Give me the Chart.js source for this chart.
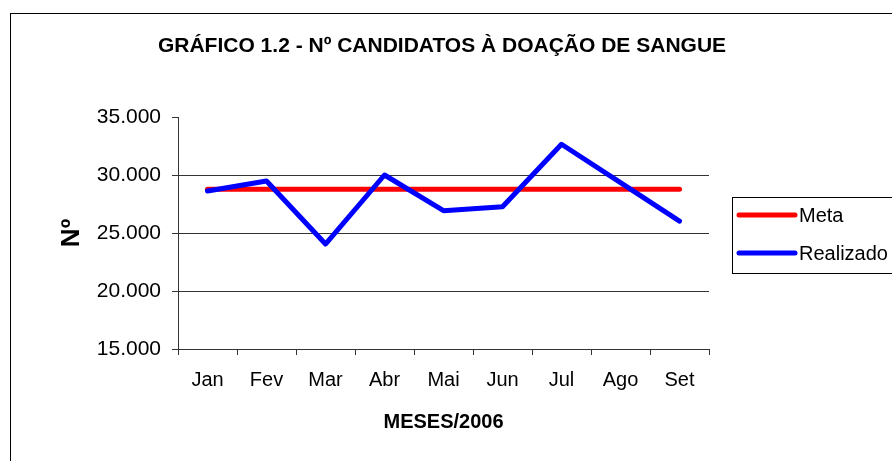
<!DOCTYPE html>
<html>
<head>
<meta charset="utf-8">
<script src="https://cdn.jsdelivr.net/npm/chart.js@4"></script>
<style>
  body { margin: 0; background: #fff; }
</style>
</head>
<body>
<canvas id="grafico" width="892" height="461"></canvas>
<script>
// dados do gráfico 1.2
const meses = ['Jan', 'Fev', 'Mar', 'Abr', 'Mai', 'Jun', 'Jul', 'Ago', 'Set'];
const meta = [28770, 28770, 28770, 28770, 28770, 28770, 28770, 28770, 28770];
const realizado = [28620, 29480, 24050, 30000, 26920, 27270, 32650, 29340, 26030];
const eixoY = { min: 15000, max: 35000, passo: 5000 };
const titulo = 'GRÁFICO 1.2 - Nº CANDIDATOS À DOAÇÃO DE SANGUE';

const FONTE = 'Liberation Sans, Arial, sans-serif';

// formata 35000 -> "35.000"
function formataMilhar(v) {
  return String(v).replace(/\B(?=(\d{3})+(?!\d))/g, '.');
}

// moldura externa, título e caixa da legenda (estilo Excel)
const molduraPlugin = {
  id: 'moldura',
  afterDraw(chart) {
    const ctx = chart.ctx;
    ctx.save();
    ctx.strokeStyle = '#000';
    ctx.lineWidth = 1;
    ctx.strokeRect(10.5, 13.5, 900, 500);

    // título
    ctx.fillStyle = '#000';
    ctx.font = 'bold 21px ' + FONTE;
    ctx.textAlign = 'center';
    ctx.textBaseline = 'middle';
    ctx.fillText(titulo, 442, 46);

    // legenda
    ctx.strokeRect(732.5, 197.5, 200, 76);
    const ys = [215, 253];
    chart.data.datasets.forEach((ds, i) => {
      ctx.strokeStyle = ds.borderColor;
      ctx.lineWidth = 5;
      ctx.lineCap = 'round';
      ctx.beginPath();
      ctx.moveTo(739, ys[i]);
      ctx.lineTo(795, ys[i]);
      ctx.stroke();
      ctx.fillStyle = '#000';
      ctx.font = '20px ' + FONTE;
      ctx.textAlign = 'left';
      ctx.fillText(ds.label, 799, ys[i] + 1);
    });
    ctx.restore();
  }
};

const ctx = document.getElementById('grafico').getContext('2d');

new Chart(ctx, {
  type: 'line',
  data: {
    labels: meses,
    datasets: [
      {
        label: 'Meta',
        data: meta,
        borderColor: '#FF0000',
        borderWidth: 5,
        borderCapStyle: 'round',
        borderJoinStyle: 'round',
        pointRadius: 0,
        tension: 0,
        order: 1
      },
      {
        label: 'Realizado',
        data: realizado,
        borderColor: '#0000FF',
        borderWidth: 5,
        borderCapStyle: 'round',
        borderJoinStyle: 'round',
        pointRadius: 0,
        tension: 0,
        order: 0
      }
    ]
  },
  options: {
    responsive: false,
    animation: false,
    layout: { padding: { left: 10, right: 183, top: 117, bottom: 0 } },
    plugins: {
      legend: { display: false },
      tooltip: { enabled: false },
      title: { display: false }
    },
    scales: {
      x: {
        offset: true,
        afterFit(scale) { scale.height = 112; },
        grid: {
          offset: true,
          drawOnChartArea: false,
          tickLength: 6,
          tickColor: '#333'
        },
        border: { color: '#333', width: 1 },
        ticks: {
          color: '#000',
          padding: 13,
          font: { family: FONTE, size: 20 }
        },
        title: {
          display: true,
          text: 'MESES/2006',
          color: '#000',
          font: { family: FONTE, size: 20, weight: 'bold' },
          padding: { top: 0, bottom: 27 }
        }
      },
      y: {
        min: eixoY.min,
        max: eixoY.max,
        afterFit(scale) { scale.width = 168; },
        grid: {
          color: c => (c.tick && (c.tick.value === eixoY.max || c.tick.value === eixoY.min)) ? 'rgba(0,0,0,0)' : '#333',
          tickColor: '#333',
          tickLength: 6
        },
        border: { color: '#333', width: 1 },
        ticks: {
          stepSize: eixoY.passo,
          color: '#000',
          padding: 11,
          font: { family: FONTE, size: 21 },
          callback: v => formataMilhar(v)
        },
        title: {
          display: true,
          text: 'Nº',
          color: '#000',
          font: { family: FONTE, size: 26, weight: 'bold' },
          padding: { top: 46, bottom: 0 }
        }
      }
    }
  },
  plugins: [molduraPlugin]
});
</script>
</body>
</html>
